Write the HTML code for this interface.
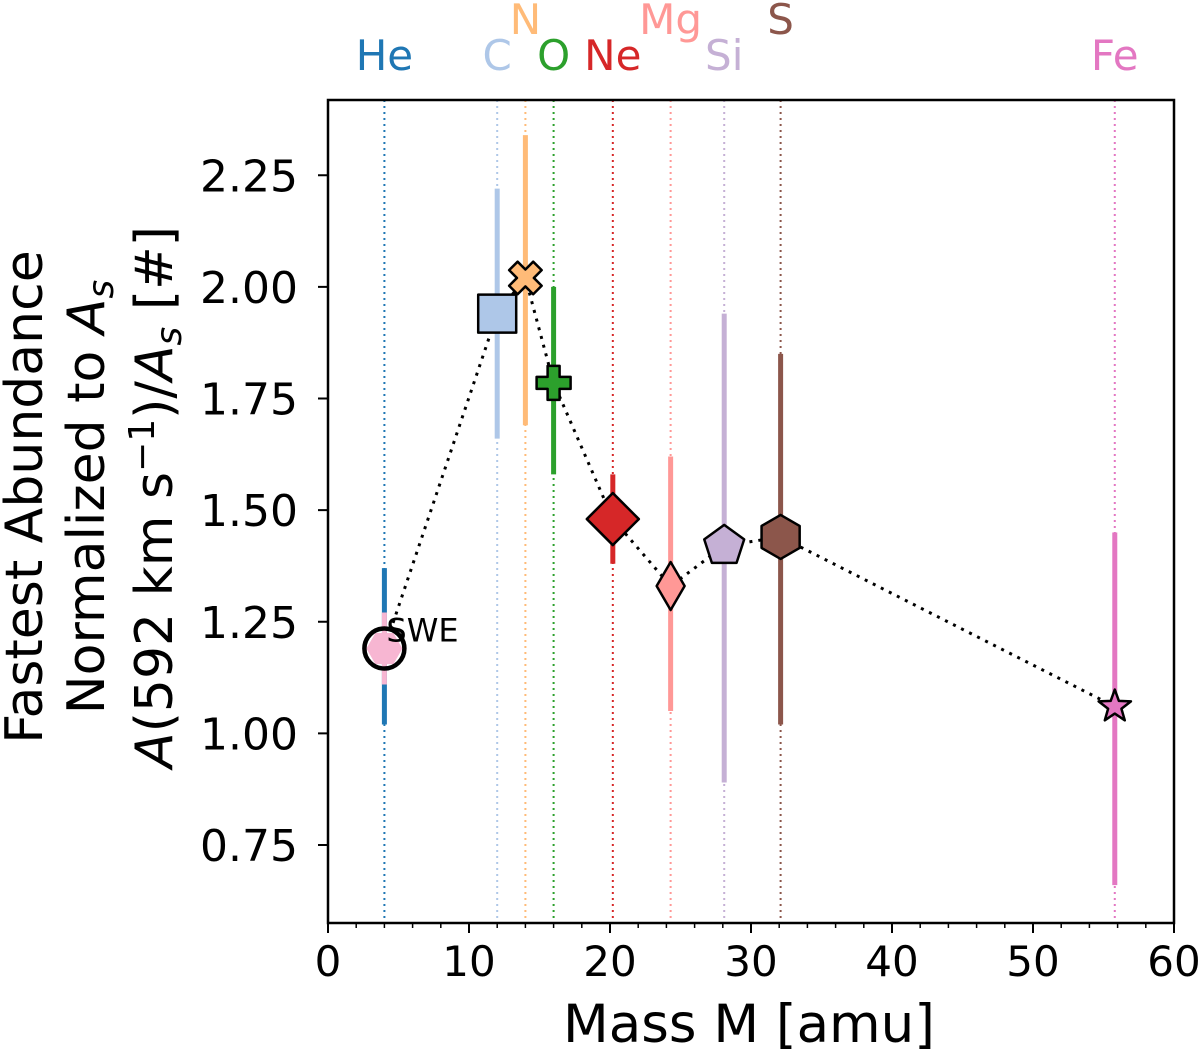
<!DOCTYPE html>
<html><head><meta charset="utf-8"><style>
body{margin:0;background:#fff;}
svg text{font-family:"DejaVu Sans","Liberation Sans",sans-serif;}
</style></head><body>
<svg id="c" width="1200" height="1052" viewBox="0 0 1200 1052"></svg>
<script>
const elements=["He","C","N","O","Ne","Mg","Si","S","Fe"];
const masses=[4.0,12.0,14.0,16.0,20.2,24.3,28.1,32.1,55.8];
const values=[1.19,1.94,2.02,1.785,1.48,1.33,1.42,1.44,1.06];
const errLow=[1.02,1.66,1.69,1.58,1.38,1.05,0.89,1.02,0.66];
const errHigh=[1.37,2.22,2.34,2.00,1.58,1.62,1.94,1.85,1.45];
const xTicks=[0,10,20,30,40,50,60];
const yTicks=[0.75,1.00,1.25,1.50,1.75,2.00,2.25];
const colors=["#1f77b4","#aec7e8","#ffbb78","#2ca02c","#d62728","#ff9896","#c5b0d5","#8c564b","#e377c2"];
const markers=["hex","square","x","plus","diamond","thin","pent","hex","star"];
const labelHigh=[false,false,true,false,false,true,false,true,false];

const L=328,R=1174,T=100,B=923;
const X=v=>L+(v-0)/(60-0)*(R-L);
const Y=v=>845-(v-0.75)*446.5;
const svg=document.getElementById('c');
const NS='http://www.w3.org/2000/svg';
function mk(tag,attrs,parent){const e=document.createElementNS(NS,tag);for(const k in attrs)e.setAttribute(k,attrs[k]);(parent||svg).appendChild(e);return e;}

elements.forEach((el,i)=>{
  const l=mk('line',{x1:X(masses[i]),x2:X(masses[i]),y1:T,y2:B,stroke:colors[i],'stroke-width':2,'stroke-dasharray':'2,4'});
  
  
  const t=mk('text',{x:X(masses[i]),y:labelHigh[i]?34:70,'text-anchor':'middle','font-size':42,fill:colors[i]});
  t.textContent=el;
  
  
});
elements.forEach((el,i)=>{
  const e=mk('line',{x1:X(masses[i]),x2:X(masses[i]),y1:Y(errLow[i]),y2:Y(errHigh[i]),stroke:colors[i],'stroke-width':5});
  
  
});
const sweBar=mk('line',{x1:X(masses[0]),x2:X(masses[0]),y1:Y(values[0])-36,y2:Y(values[0])+36,stroke:'#f7b6d2','stroke-width':5});


const pl=mk('polyline',{points:masses.map((m,i)=>X(m)+','+Y(values[i])).join(' '),fill:'none',stroke:'#000','stroke-width':3,'stroke-dasharray':'3,6'});


function poly(n,r,rot){let p=[];for(let k=0;k<n;k++){const a=rot+k*2*Math.PI/n;p.push([r*Math.cos(a),r*Math.sin(a)]);}return p;}
function shape(type){
  switch(type){
    case 'hex':return poly(6,22,Math.PI/6);
    case 'square':return [[-19,-19],[19,-19],[19,19],[-19,19]];
    case 'diamond':return [[0,-26],[26,0],[0,26],[-26,0]];
    case 'thin':return [[0,-24],[14,0],[0,24],[-14,0]];
    case 'pent':return poly(5,21,-Math.PI/2);
    case 'plus':{const a=6,b=17;return [[-a,-b],[a,-b],[a,-a],[b,-a],[b,a],[a,a],[a,b],[-a,b],[-a,a],[-b,a],[-b,-a],[-a,-a]];}
    case 'x':{const p=[[-6,-17],[6,-17],[6,-6],[17,-6],[17,6],[6,6],[6,17],[-6,17],[-6,6],[-17,6],[-17,-6],[-6,-6]];const c=Math.cos(Math.PI/4),s=Math.sin(Math.PI/4);return p.map(([x,y])=>[x*c-y*s,x*s+y*c]);}
    case 'star':{let p=[];for(let k=0;k<10;k++){const r=k%2?7:17,a=-Math.PI/2+k*Math.PI/5;p.push([r*Math.cos(a),r*Math.sin(a)]);}return p;}
  }
}
elements.forEach((el,i)=>{
  const cx=X(masses[i]),cy=Y(values[i]);
  if(i===0){
    const pts=poly(6,18,0).map(([a,b])=>(cx+a)+','+(cy+b)).join(' ');
    const h=mk('polygon',{points:pts,fill:'#f7b6d2'});
    
    
    const c=mk('circle',{cx:cx,cy:cy,r:20,fill:'none',stroke:'#000','stroke-width':4.5});
    
    
    return;
  }
  const pts=shape(markers[i]).map(([a,b])=>(cx+a)+','+(cy+b)).join(' ');
  const m=mk('polygon',{points:pts,fill:colors[i],stroke:'#000','stroke-width':2.5,'stroke-linejoin':'round'});
  
  
});
const st=mk('text',{x:X(masses[0])+2,y:Y(values[0])-7,'font-size':32,fill:'#000'});st.textContent='SWE';


const fr=mk('rect',{x:L,y:T,width:R-L,height:B-T,fill:'none',stroke:'#000','stroke-width':2.5});


xTicks.forEach(v=>{
  const t=mk('line',{x1:X(v),x2:X(v),y1:B,y2:B+10,stroke:'#000','stroke-width':2});
  
  
  const tx=mk('text',{x:X(v),y:B+53,'text-anchor':'middle','font-size':42});tx.textContent=v;
  
  
});
for(let v=2;v<60;v+=2){if(v%10===0)continue;
  const t=mk('line',{x1:X(v),x2:X(v),y1:B,y2:B+5,stroke:'#000','stroke-width':1.5});
  
  
}
yTicks.forEach(v=>{
  const t=mk('line',{x1:L-10,x2:L,y1:Y(v),y2:Y(v),stroke:'#000','stroke-width':2});
  
  
  const tx=mk('text',{x:L-30,y:Y(v)+16,'text-anchor':'end','font-size':44});tx.textContent=v.toFixed(2);
  
  
});
const xl=mk('text',{x:(L+R)/2-2,y:1042,'text-anchor':'middle','font-size':53});xl.textContent='Mass M [amu]';


const g=mk('g',{transform:'translate(0,497) rotate(-90)'});


const l1=mk('text',{x:0,y:42,'text-anchor':'middle','font-size':52},g);l1.innerHTML='Fastest Abundance';
const l2=mk('text',{x:0,y:104,'text-anchor':'middle','font-size':52},g);l2.innerHTML='Normalized to <tspan font-style="italic">A</tspan><tspan font-style="italic" font-size="36" dy="9">s</tspan>';
const l3=mk('text',{x:0,y:172,'text-anchor':'middle','font-size':52},g);l3.innerHTML='<tspan font-style="italic">A</tspan>(592 km s<tspan font-size="36" dy="-18">−1</tspan><tspan dy="18">)/</tspan><tspan font-style="italic">A</tspan><tspan font-style="italic" font-size="36" dy="9">s</tspan><tspan dy="-9"> [#]</tspan>';
</script>
</body></html>
